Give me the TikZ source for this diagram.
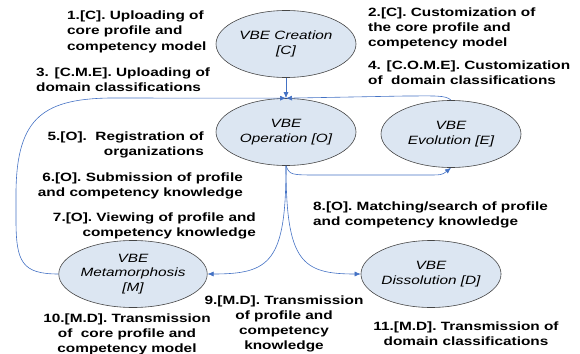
\documentclass[tikz,border=0pt]{standalone}
\usepackage{fontspec}
\setmainfont[FakeStretch=1.28]{Liberation Sans}
\usepackage{tikz}
\usetikzlibrary{shapes.geometric,arrows.meta}
\definecolor{phasefill}{RGB}{220,230,242}
\definecolor{flowblue}{RGB}{68,114,196}
\definecolor{rimgrey}{RGB}{70,70,70}

\tikzset{
  phase/.style={ellipse, draw=rimgrey, line width=0.6pt, fill=phasefill,
    minimum width=140pt, minimum height=67pt, inner sep=0pt, align=center,
    font=\fontsize{12pt}{14.5pt}\selectfont\itshape},
  flow/.style={draw=flowblue, line width=0.6pt, -{Latex[length=6pt,width=5pt]}},
  lbl/.style={inner sep=0pt, font=\fontsize{12pt}{15pt}\selectfont\bfseries}
}

\begin{document}
\begin{tikzpicture}[x=1pt,y=-1pt]
\useasboundingbox (0,0) rectangle (580,353);

% Phases
\node[phase] (cre) at (286,44) {VBE Creation\\{[C]}};
\node[phase] (ope) at (286,132) {VBE\\Operation [O]};
\node[phase] (evo) at (451,134) {VBE\\Evolution [E]};
\node[phase] (met) at (133,274) {VBE\\Metamorphosis\\{[M]}};
\node[phase] (dis) at (431,274) {VBE\\Dissolution [D]};

% Arrows
\draw[flow] (cre.south) -- (ope.north);
\draw[flow] (met.west) .. controls (22,274) and (16,262) .. (16,220) -- (16,200)
  .. controls (15,120) and (40,99) .. (110,98) -- (ope.north);
\draw[flow] (evo.north) .. controls (446,95) and (435,96) .. (405,96) -- (ope.north);
\draw[flow] (ope.south) .. controls (290,175) .. (320,175) -- (425,175)
  .. controls (442,175) .. (evo.south);
\draw[flow] (ope.south) .. controls (286,262) and (270,274) .. (met.east);
\draw[flow] (ope.south) .. controls (286,262) and (302,274) .. (dis.west);

% Labels (placed at the baseline of their last line)
\node[lbl, anchor=base west, align=left] (l1) at (67,50)
  {1.[C]. Uploading of\\core profile and\\competency model};
\node[lbl, anchor=base west, align=left] (l2) at (368,47)
  {2.[C]. Customization of\\the core profile and\\competency model};
\node[lbl, anchor=base west, align=left] (l3) at (36,91)
  {3. [C.M.E]. Uploading of\\domain classifications};
\node[lbl, anchor=base west, align=left] (l4) at (368,84)
  {4. [C.O.M.E]. Customization\\of\ \ domain classifications};
\node[lbl, anchor=base east, align=right] (l5) at (204,155)
  {5.[O].\ \ Registration of\\organizations};
\node[lbl, anchor=base east, align=right] (l6) at (243,196)
  {6.[O]. Submission of profile\\and competency knowledge};
\node[lbl, anchor=base east, align=right] (l7) at (256,236)
  {7.[O]. Viewing of profile and\\competency knowledge};
\node[lbl, anchor=base west, align=left] (l8) at (313,225)
  {8.[O]. Matching/search of profile\\and competency knowledge};
\node[lbl, anchor=base, align=center] (l9) at (284,349)
  {9.[M.D]. Transmission\\of profile and\\competency\\knowledge};
\node[lbl, anchor=base, align=center] (l10) at (127,352)
  {10.[M.D]. Transmission\\of\ \ core profile and\\competency model};
\node[lbl, anchor=base, align=center] (l11) at (466,345)
  {11.[M.D]. Transmission of\\domain classifications};

\end{tikzpicture}
\end{document}
